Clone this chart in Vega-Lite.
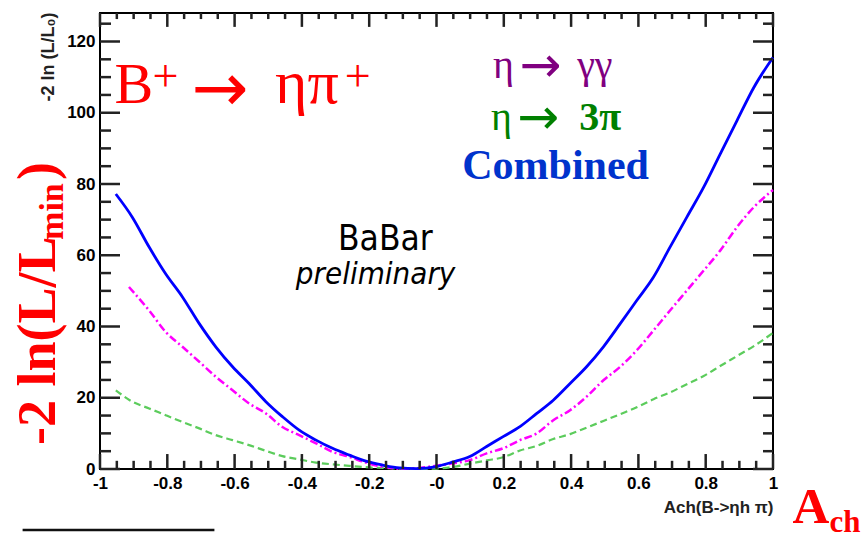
{
  "$schema": "https://vega.github.io/schema/vega-lite/v6.json",
  "width": 673,
  "height": 456,
  "autosize": {"type": "none"},
  "padding": {"left": 100, "top": 13, "right": 94, "bottom": 69},
  "background": "white",
  "config": {"view": {"stroke": "black", "strokeWidth": 2}},
  "datasets": {
    "curves": [
      {"series": "combined", "x": -0.953, "y": 77.2},
      {"series": "combined", "x": -0.904, "y": 70.7},
      {"series": "combined", "x": -0.854, "y": 62.3},
      {"series": "combined", "x": -0.805, "y": 54.8},
      {"series": "combined", "x": -0.755, "y": 48.3},
      {"series": "combined", "x": -0.705, "y": 40.8},
      {"series": "combined", "x": -0.656, "y": 34.3},
      {"series": "combined", "x": -0.606, "y": 28.7},
      {"series": "combined", "x": -0.557, "y": 24.0},
      {"series": "combined", "x": -0.507, "y": 18.9},
      {"series": "combined", "x": -0.458, "y": 14.7},
      {"series": "combined", "x": -0.408, "y": 10.9},
      {"series": "combined", "x": -0.358, "y": 8.1},
      {"series": "combined", "x": -0.309, "y": 5.8},
      {"series": "combined", "x": -0.259, "y": 3.9},
      {"series": "combined", "x": -0.21, "y": 2.2},
      {"series": "combined", "x": -0.16, "y": 1.1},
      {"series": "combined", "x": -0.11, "y": 0.3},
      {"series": "combined", "x": -0.06, "y": 0.1},
      {"series": "combined", "x": 0.0, "y": 0.7},
      {"series": "combined", "x": 0.05, "y": 2.0},
      {"series": "combined", "x": 0.099, "y": 3.5},
      {"series": "combined", "x": 0.149, "y": 6.3},
      {"series": "combined", "x": 0.198, "y": 9.1},
      {"series": "combined", "x": 0.248, "y": 11.9},
      {"series": "combined", "x": 0.298, "y": 15.6},
      {"series": "combined", "x": 0.347, "y": 19.3},
      {"series": "combined", "x": 0.397, "y": 24.0},
      {"series": "combined", "x": 0.446, "y": 28.7},
      {"series": "combined", "x": 0.496, "y": 34.3},
      {"series": "combined", "x": 0.546, "y": 40.8},
      {"series": "combined", "x": 0.595, "y": 47.3},
      {"series": "combined", "x": 0.645, "y": 53.9},
      {"series": "combined", "x": 0.694, "y": 62.3},
      {"series": "combined", "x": 0.744, "y": 70.7},
      {"series": "combined", "x": 0.794, "y": 79.1},
      {"series": "combined", "x": 0.843, "y": 88.4},
      {"series": "combined", "x": 0.893, "y": 97.8},
      {"series": "combined", "x": 0.943, "y": 107.1},
      {"series": "combined", "x": 1.0, "y": 115.5},
      {"series": "gg", "x": -0.914, "y": 51.1},
      {"series": "gg", "x": -0.854, "y": 44.5},
      {"series": "gg", "x": -0.805, "y": 38.5},
      {"series": "gg", "x": -0.755, "y": 34.3},
      {"series": "gg", "x": -0.705, "y": 30.1},
      {"series": "gg", "x": -0.656, "y": 25.9},
      {"series": "gg", "x": -0.606, "y": 22.1},
      {"series": "gg", "x": -0.557, "y": 18.4},
      {"series": "gg", "x": -0.507, "y": 15.6},
      {"series": "gg", "x": -0.458, "y": 11.8},
      {"series": "gg", "x": -0.408, "y": 9.5},
      {"series": "gg", "x": -0.358, "y": 7.2},
      {"series": "gg", "x": -0.309, "y": 4.8},
      {"series": "gg", "x": -0.259, "y": 3.4},
      {"series": "gg", "x": -0.21, "y": 1.8},
      {"series": "gg", "x": -0.16, "y": 0.6},
      {"series": "gg", "x": -0.11, "y": 0.1},
      {"series": "gg", "x": -0.06, "y": 0.2},
      {"series": "gg", "x": -0.01, "y": 0.8},
      {"series": "gg", "x": 0.05, "y": 1.6},
      {"series": "gg", "x": 0.099, "y": 2.5},
      {"series": "gg", "x": 0.149, "y": 4.4},
      {"series": "gg", "x": 0.198, "y": 5.8},
      {"series": "gg", "x": 0.248, "y": 8.1},
      {"series": "gg", "x": 0.298, "y": 10.0},
      {"series": "gg", "x": 0.347, "y": 13.7},
      {"series": "gg", "x": 0.397, "y": 16.5},
      {"series": "gg", "x": 0.446, "y": 20.3},
      {"series": "gg", "x": 0.496, "y": 24.9},
      {"series": "gg", "x": 0.546, "y": 28.7},
      {"series": "gg", "x": 0.595, "y": 33.3},
      {"series": "gg", "x": 0.645, "y": 38.9},
      {"series": "gg", "x": 0.694, "y": 44.5},
      {"series": "gg", "x": 0.744, "y": 50.1},
      {"series": "gg", "x": 0.794, "y": 55.7},
      {"series": "gg", "x": 0.843, "y": 61.3},
      {"series": "gg", "x": 0.893, "y": 67.9},
      {"series": "gg", "x": 0.943, "y": 73.5},
      {"series": "gg", "x": 1.0, "y": 78.3},
      {"series": "3pi", "x": -0.953, "y": 22.1},
      {"series": "3pi", "x": -0.904, "y": 18.9},
      {"series": "3pi", "x": -0.854, "y": 17.0},
      {"series": "3pi", "x": -0.805, "y": 15.1},
      {"series": "3pi", "x": -0.755, "y": 13.2},
      {"series": "3pi", "x": -0.705, "y": 11.4},
      {"series": "3pi", "x": -0.656, "y": 9.5},
      {"series": "3pi", "x": -0.606, "y": 8.1},
      {"series": "3pi", "x": -0.557, "y": 6.7},
      {"series": "3pi", "x": -0.507, "y": 5.1},
      {"series": "3pi", "x": -0.458, "y": 3.6},
      {"series": "3pi", "x": -0.408, "y": 2.7},
      {"series": "3pi", "x": -0.358, "y": 1.8},
      {"series": "3pi", "x": -0.309, "y": 1.3},
      {"series": "3pi", "x": -0.259, "y": 0.9},
      {"series": "3pi", "x": -0.21, "y": 0.5},
      {"series": "3pi", "x": -0.16, "y": 0.3},
      {"series": "3pi", "x": -0.11, "y": 0.1},
      {"series": "3pi", "x": -0.06, "y": 0.0},
      {"series": "3pi", "x": -0.01, "y": 0.1},
      {"series": "3pi", "x": 0.05, "y": 0.6},
      {"series": "3pi", "x": 0.099, "y": 1.5},
      {"series": "3pi", "x": 0.149, "y": 2.4},
      {"series": "3pi", "x": 0.198, "y": 3.3},
      {"series": "3pi", "x": 0.248, "y": 5.2},
      {"series": "3pi", "x": 0.298, "y": 6.5},
      {"series": "3pi", "x": 0.347, "y": 8.4},
      {"series": "3pi", "x": 0.397, "y": 9.8},
      {"series": "3pi", "x": 0.446, "y": 11.6},
      {"series": "3pi", "x": 0.496, "y": 13.5},
      {"series": "3pi", "x": 0.546, "y": 15.4},
      {"series": "3pi", "x": 0.595, "y": 17.3},
      {"series": "3pi", "x": 0.645, "y": 19.6},
      {"series": "3pi", "x": 0.694, "y": 21.5},
      {"series": "3pi", "x": 0.744, "y": 23.8},
      {"series": "3pi", "x": 0.794, "y": 26.1},
      {"series": "3pi", "x": 0.843, "y": 28.9},
      {"series": "3pi", "x": 0.893, "y": 31.7},
      {"series": "3pi", "x": 0.943, "y": 34.5},
      {"series": "3pi", "x": 1.0, "y": 38.2}
    ]
  },
  "layer": [
    {
      "data": {"name": "curves"},
      "transform": [{"filter": "datum.series == '3pi'"}],
      "mark": {"type": "line", "stroke": "#5ccc5c", "strokeWidth": 2.2, "strokeDash": [7, 4], "interpolate": "monotone"},
      "encoding": {
        "x": {"field": "x", "type": "quantitative", "scale": {"domain": [-1, 1], "nice": false, "zero": false},
          "axis": {"orient": "bottom", "values": [-1, -0.8, -0.6, -0.4, -0.2, 0, 0.2, 0.4, 0.6, 0.8, 1],
            "domain": false, "ticks": false, "grid": false,
            "labelExpr": "datum.value == 0 ? '-0' : '' + datum.value",
            "labelPadding": 6, "labelFlush": false, "labelOverlap": false,
            "labelFont": "Liberation Sans", "labelFontSize": 17, "labelFontWeight": "bold", "labelColor": "black",
            "title": "Ach(B->ηh π)", "titleAnchor": "end", "titleAlign": "right", "titleX": 673, "titleY": 43,
            "titleBaseline": "alphabetic", "titleFont": "Liberation Sans", "titleFontSize": 17, "titleFontWeight": "bold", "titleColor": "#222"}},
        "y": {"field": "y", "type": "quantitative", "scale": {"domain": [0, 128], "nice": false, "zero": false},
          "axis": {"orient": "left", "values": [0, 20, 40, 60, 80, 100, 120],
            "domain": false, "ticks": false, "grid": false,
            "labelPadding": 5, "labelFlush": false, "labelOverlap": false,
            "labelFont": "Liberation Sans", "labelFontSize": 17, "labelFontWeight": "bold", "labelColor": "black",
            "title": "-2 ln (L/L₀)", "titleAngle": -90, "titleAnchor": "end", "titleAlign": "right", "titleX": -47, "titleY": -1,
            "titleBaseline": "alphabetic", "titleFont": "Liberation Sans", "titleFontSize": 18, "titleFontWeight": "bold", "titleColor": "#222"}}
      }
    },
    {
      "data": {"name": "curves"},
      "transform": [{"filter": "datum.series == 'gg'"}],
      "mark": {"type": "line", "stroke": "#ff00ff", "strokeWidth": 2.5, "strokeDash": [8, 3, 2, 3], "interpolate": "monotone"},
      "encoding": {
        "x": {"field": "x", "type": "quantitative"},
        "y": {"field": "y", "type": "quantitative"}
      }
    },
    {
      "data": {"name": "curves"},
      "transform": [{"filter": "datum.series == 'combined'"}],
      "mark": {"type": "line", "stroke": "#0000ff", "strokeWidth": 2.8, "interpolate": "monotone"},
      "encoding": {
        "x": {"field": "x", "type": "quantitative"},
        "y": {"field": "y", "type": "quantitative"}
      }
    },
    {
      "data": {"values": [{"t": -1}, {"t": -0.8}, {"t": -0.6}, {"t": -0.4}, {"t": -0.2}, {"t": 0}, {"t": 0.2}, {"t": 0.4}, {"t": 0.6}, {"t": 0.8}, {"t": 1}]},
      "mark": {"type": "rule", "stroke": "#222222", "strokeWidth": 2.5},
      "encoding": {"x": {"field": "t", "type": "quantitative"}, "y": {"datum": 0, "type": "quantitative"}, "y2": {"datum": 4.2}}
    },
    {
      "data": {"values": [{"t": -1}, {"t": -0.8}, {"t": -0.6}, {"t": -0.4}, {"t": -0.2}, {"t": 0}, {"t": 0.2}, {"t": 0.4}, {"t": 0.6}, {"t": 0.8}, {"t": 1}]},
      "mark": {"type": "rule", "stroke": "#222222", "strokeWidth": 2.5},
      "encoding": {"x": {"field": "t", "type": "quantitative"}, "y": {"datum": 128, "type": "quantitative"}, "y2": {"datum": 124.1}}
    },
    {
      "data": {"values": [{"t": -0.95}, {"t": -0.9}, {"t": -0.85}, {"t": -0.75}, {"t": -0.7}, {"t": -0.65}, {"t": -0.55}, {"t": -0.5}, {"t": -0.45}, {"t": -0.35}, {"t": -0.3}, {"t": -0.25}, {"t": -0.15}, {"t": -0.1}, {"t": -0.05}, {"t": 0.05}, {"t": 0.1}, {"t": 0.15}, {"t": 0.25}, {"t": 0.3}, {"t": 0.35}, {"t": 0.45}, {"t": 0.5}, {"t": 0.55}, {"t": 0.65}, {"t": 0.7}, {"t": 0.75}, {"t": 0.85}, {"t": 0.9}, {"t": 0.95}]},
      "mark": {"type": "rule", "stroke": "#222222", "strokeWidth": 2.5},
      "encoding": {"x": {"field": "t", "type": "quantitative"}, "y": {"datum": 0, "type": "quantitative"}, "y2": {"datum": 2.3}}
    },
    {
      "data": {"values": [{"t": -0.95}, {"t": -0.9}, {"t": -0.85}, {"t": -0.75}, {"t": -0.7}, {"t": -0.65}, {"t": -0.55}, {"t": -0.5}, {"t": -0.45}, {"t": -0.35}, {"t": -0.3}, {"t": -0.25}, {"t": -0.15}, {"t": -0.1}, {"t": -0.05}, {"t": 0.05}, {"t": 0.1}, {"t": 0.15}, {"t": 0.25}, {"t": 0.3}, {"t": 0.35}, {"t": 0.45}, {"t": 0.5}, {"t": 0.55}, {"t": 0.65}, {"t": 0.7}, {"t": 0.75}, {"t": 0.85}, {"t": 0.9}, {"t": 0.95}]},
      "mark": {"type": "rule", "stroke": "#222222", "strokeWidth": 2.5},
      "encoding": {"x": {"field": "t", "type": "quantitative"}, "y": {"datum": 128, "type": "quantitative"}, "y2": {"datum": 126.3}}
    },
    {
      "data": {"values": [{"t": 0}, {"t": 20}, {"t": 40}, {"t": 60}, {"t": 80}, {"t": 100}, {"t": 120}]},
      "mark": {"type": "rule", "stroke": "#222222", "strokeWidth": 2.5},
      "encoding": {"y": {"field": "t", "type": "quantitative"}, "x": {"datum": -1, "type": "quantitative"}, "x2": {"datum": -0.9406}}
    },
    {
      "data": {"values": [{"t": 0}, {"t": 20}, {"t": 40}, {"t": 60}, {"t": 80}, {"t": 100}, {"t": 120}]},
      "mark": {"type": "rule", "stroke": "#222222", "strokeWidth": 2.5},
      "encoding": {"y": {"field": "t", "type": "quantitative"}, "x": {"datum": 1, "type": "quantitative"}, "x2": {"datum": 0.9406}}
    },
    {
      "data": {"values": [{"t": 5}, {"t": 10}, {"t": 15}, {"t": 25}, {"t": 30}, {"t": 35}, {"t": 45}, {"t": 50}, {"t": 55}, {"t": 65}, {"t": 70}, {"t": 75}, {"t": 85}, {"t": 90}, {"t": 95}, {"t": 105}, {"t": 110}, {"t": 115}, {"t": 125}]},
      "mark": {"type": "rule", "stroke": "#222222", "strokeWidth": 2.5},
      "encoding": {"y": {"field": "t", "type": "quantitative"}, "x": {"datum": -1, "type": "quantitative"}, "x2": {"datum": -0.9673}}
    },
    {
      "data": {"values": [{"t": 5}, {"t": 10}, {"t": 15}, {"t": 25}, {"t": 30}, {"t": 35}, {"t": 45}, {"t": 50}, {"t": 55}, {"t": 65}, {"t": 70}, {"t": 75}, {"t": 85}, {"t": 90}, {"t": 95}, {"t": 105}, {"t": 110}, {"t": 115}, {"t": 125}]},
      "mark": {"type": "rule", "stroke": "#222222", "strokeWidth": 2.5},
      "encoding": {"y": {"field": "t", "type": "quantitative"}, "x": {"datum": 1, "type": "quantitative"}, "x2": {"datum": 0.9703}}
    },
    {
      "data": {"values": [{}]},
      "mark": {"type": "text", "text": "B", "font": "Liberation Serif", "fontSize": 58, "fill": "#ff0000", "align": "left", "baseline": "alphabetic"},
      "encoding": {"x": {"datum": -0.957, "type": "quantitative"}, "y": {"datum": 102.7, "type": "quantitative"}}
    },
    {
      "data": {"values": [{}]},
      "mark": {"type": "text", "text": "+", "font": "Liberation Serif", "fontSize": 46, "fill": "#ff0000", "align": "left", "baseline": "alphabetic"},
      "encoding": {"x": {"datum": -0.844, "type": "quantitative"}, "y": {"datum": 106.1, "type": "quantitative"}}
    },
    {
      "data": {"values": [{}]},
      "mark": {"type": "text", "text": "→", "font": "DejaVu Sans", "fontSize": 68, "fill": "#ff0000", "align": "left", "baseline": "alphabetic"},
      "encoding": {"x": {"datum": -0.728, "type": "quantitative"}, "y": {"datum": 100.5, "type": "quantitative"}}
    },
    {
      "data": {"values": [{}]},
      "mark": {"type": "text", "text": "ηπ", "font": "Liberation Serif", "fontSize": 62, "fill": "#ff0000", "align": "left", "baseline": "alphabetic"},
      "encoding": {"x": {"datum": -0.48, "type": "quantitative"}, "y": {"datum": 102.7, "type": "quantitative"}}
    },
    {
      "data": {"values": [{}]},
      "mark": {"type": "text", "text": "+", "font": "Liberation Serif", "fontSize": 46, "fill": "#ff0000", "align": "left", "baseline": "alphabetic"},
      "encoding": {"x": {"datum": -0.273, "type": "quantitative"}, "y": {"datum": 106.1, "type": "quantitative"}}
    },
    {
      "data": {"values": [{}]},
      "mark": {"type": "text", "text": "η", "font": "Liberation Serif", "fontSize": 40, "fill": "#800080", "align": "left", "baseline": "alphabetic"},
      "encoding": {"x": {"datum": 0.168, "type": "quantitative"}, "y": {"datum": 109.8, "type": "quantitative"}}
    },
    {
      "data": {"values": [{}]},
      "mark": {"type": "text", "text": "→", "font": "DejaVu Sans", "fontSize": 50, "fill": "#800080", "align": "left", "baseline": "alphabetic"},
      "encoding": {"x": {"datum": 0.247, "type": "quantitative"}, "y": {"datum": 108.6, "type": "quantitative"}}
    },
    {
      "data": {"values": [{}]},
      "mark": {"type": "text", "text": "γγ", "font": "Liberation Serif", "fontSize": 40, "fill": "#800080", "align": "left", "baseline": "alphabetic"},
      "encoding": {"x": {"datum": 0.418, "type": "quantitative"}, "y": {"datum": 109.8, "type": "quantitative"}}
    },
    {
      "data": {"values": [{}]},
      "mark": {"type": "text", "text": "η", "font": "Liberation Serif", "fontSize": 40, "fill": "#008000", "align": "left", "baseline": "alphabetic"},
      "encoding": {"x": {"datum": 0.162, "type": "quantitative"}, "y": {"datum": 95.2, "type": "quantitative"}}
    },
    {
      "data": {"values": [{}]},
      "mark": {"type": "text", "text": "→", "font": "DejaVu Sans", "fontSize": 50, "fill": "#008000", "align": "left", "baseline": "alphabetic"},
      "encoding": {"x": {"datum": 0.24, "type": "quantitative"}, "y": {"datum": 94.0, "type": "quantitative"}}
    },
    {
      "data": {"values": [{}]},
      "mark": {"type": "text", "text": "3π", "font": "Liberation Serif", "fontSize": 40, "fontWeight": "bold", "fill": "#008000", "align": "left", "baseline": "alphabetic"},
      "encoding": {"x": {"datum": 0.424, "type": "quantitative"}, "y": {"datum": 95.2, "type": "quantitative"}}
    },
    {
      "data": {"values": [{}]},
      "mark": {"type": "text", "text": "Combined", "font": "Liberation Serif", "fontSize": 42, "fontWeight": "bold", "fill": "#0033cc", "align": "center", "baseline": "alphabetic"},
      "encoding": {"x": {"datum": 0.354, "type": "quantitative"}, "y": {"datum": 81.4, "type": "quantitative"}}
    },
    {
      "data": {"values": [{}]},
      "mark": {"type": "text", "text": "BaBar", "font": "Liberation Sans Narrow, DejaVu Sans Condensed, Liberation Sans", "fontSize": 35, "fill": "black", "align": "center", "baseline": "alphabetic"},
      "encoding": {"x": {"datum": -0.152, "type": "quantitative"}, "y": {"datum": 61.5, "type": "quantitative"}}
    },
    {
      "data": {"values": [{}]},
      "mark": {"type": "text", "text": "preliminary", "font": "Liberation Sans Narrow, DejaVu Sans Condensed, Liberation Sans", "fontSize": 31, "fontStyle": "italic", "fill": "black", "align": "center", "baseline": "alphabetic"},
      "encoding": {"x": {"datum": -0.181, "type": "quantitative"}, "y": {"datum": 52.0, "type": "quantitative"}}
    },
    {
      "data": {"values": [{}]},
      "mark": {"type": "text", "text": "-2 ln(L/L", "angle": -90, "font": "Liberation Serif", "fontSize": 54, "fontWeight": "bold", "fill": "#ff0000", "align": "left", "baseline": "alphabetic"},
      "encoding": {"x": {"datum": -1.135, "type": "quantitative"}, "y": {"datum": 6.74, "type": "quantitative"}}
    },
    {
      "data": {"values": [{}]},
      "mark": {"type": "text", "text": "min", "angle": -90, "font": "Liberation Serif", "fontSize": 34, "fontWeight": "bold", "fill": "#ff0000", "align": "left", "baseline": "alphabetic"},
      "encoding": {"x": {"datum": -1.111, "type": "quantitative"}, "y": {"datum": 64.3, "type": "quantitative"}}
    },
    {
      "data": {"values": [{}]},
      "mark": {"type": "text", "text": ")", "angle": -90, "font": "Liberation Serif", "fontSize": 54, "fontWeight": "bold", "fill": "#ff0000", "align": "left", "baseline": "alphabetic"},
      "encoding": {"x": {"datum": -1.135, "type": "quantitative"}, "y": {"datum": 81.1, "type": "quantitative"}}
    },
    {
      "data": {"values": [{}]},
      "mark": {"type": "text", "text": "A", "font": "Liberation Serif", "fontSize": 51, "fontWeight": "bold", "fill": "#ff0000", "align": "left", "baseline": "alphabetic"},
      "encoding": {"x": {"datum": 1.058, "type": "quantitative"}, "y": {"datum": -15.16, "type": "quantitative"}}
    },
    {
      "data": {"values": [{}]},
      "mark": {"type": "text", "text": "ch", "font": "Liberation Serif", "fontSize": 31, "fontWeight": "bold", "fill": "#ff0000", "align": "left", "baseline": "alphabetic"},
      "encoding": {"x": {"datum": 1.168, "type": "quantitative"}, "y": {"datum": -17.7, "type": "quantitative"}}
    },
    {
      "data": {"values": [{}]},
      "mark": {"type": "rule", "stroke": "#111111", "strokeWidth": 2.5},
      "encoding": {"x": {"datum": -1.23, "type": "quantitative"}, "x2": {"datum": -0.66}, "y": {"datum": -17.12, "type": "quantitative"}}
    }
  ]
}
